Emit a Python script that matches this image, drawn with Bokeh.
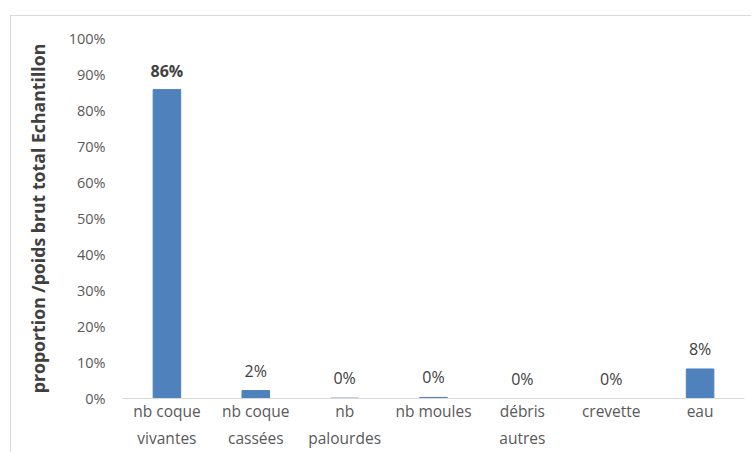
from bokeh.plotting import figure
from bokeh.models import ColumnDataSource, FixedTicker, NumeralTickFormatter, Range1d
from bokeh.core.properties import value
from bokeh.embed import file_html
from bokeh.resources import INLINE

categories = ["nb coque\nvivantes", "nb coque\ncassées", "nb\npalourdes", "nb moules",
              "débris\nautres", "crevette", "eau"]
values = [0.858, 0.022, 0.001, 0.003, 0.0, 0.0, 0.082]
labels = [f"{round(v * 100):.0f}%" for v in values]
y_ticks = [i / 10 for i in range(11)]

FONT = "Open Sans"
src = ColumnDataSource(dict(cat=categories, val=values, lab=labels))

p = figure(x_range=categories, y_range=Range1d(0, 1),
           frame_width=622, frame_height=360,
           output_backend="svg", toolbar_location=None,
           min_border_left=111, min_border_right=7, min_border_top=22, min_border_bottom=54,
           margin=(15, 0, 0, 10),
           styles={"border-top": "1px solid #d9d9d9", "border-left": "1px solid #d9d9d9"})
p.outline_line_color = None
p.xgrid.grid_line_color = None
p.ygrid.grid_line_color = None

p.vbar(x="cat", top="val", width=0.31, source=src, fill_color="#4F81BD", line_color="#4F81BD")

bold_src = ColumnDataSource(dict(cat=categories[:1], val=values[:1], lab=labels[:1]))
norm_src = ColumnDataSource(dict(cat=categories[1:], val=values[1:], lab=labels[1:]))
p.text(x="cat", y="val", text="lab", source=bold_src, text_align="center",
       text_baseline="bottom", y_offset=-8, text_font=value(FONT), text_font_size="16px",
       text_font_style="bold", text_color="#404040")
p.text(x="cat", y="val", text="lab", source=norm_src, text_align="center",
       text_baseline="bottom", y_offset=-9, text_font=value(FONT), text_font_size="16px",
       text_color="#404040")

p.yaxis.ticker = FixedTicker(ticks=y_ticks)
p.yaxis.formatter = NumeralTickFormatter(format="0%")
p.yaxis.axis_line_color = None
p.yaxis.major_tick_line_color = None
p.yaxis.minor_tick_line_color = None
p.yaxis.major_tick_out = 0
p.yaxis.major_label_standoff = 17
p.yaxis.major_label_text_font = FONT
p.yaxis.major_label_text_font_size = "14.5px"
p.yaxis.major_label_text_color = "#595959"
p.yaxis.axis_label = "proportion /poids brut total Echantillon"
p.yaxis.axis_label_text_font = FONT
p.yaxis.axis_label_text_font_size = "17.7px"
p.yaxis.axis_label_text_font_style = "bold"
p.yaxis.axis_label_text_color = "#404040"
p.yaxis.axis_label_standoff = 16

p.xaxis.axis_line_color = "#d9d9d9"
p.xaxis.major_tick_line_color = None
p.xaxis.minor_tick_line_color = None
p.xaxis.major_tick_out = 0
p.xaxis.major_label_standoff = 1
p.xaxis.major_label_text_font = FONT
p.xaxis.major_label_text_font_size = "15.5px"
p.xaxis.major_label_text_line_height = 1.25
p.xaxis.major_label_text_color = "#595959"
p.x_range.range_padding = 0

open("out.html", "w").write(file_html(p, INLINE))
